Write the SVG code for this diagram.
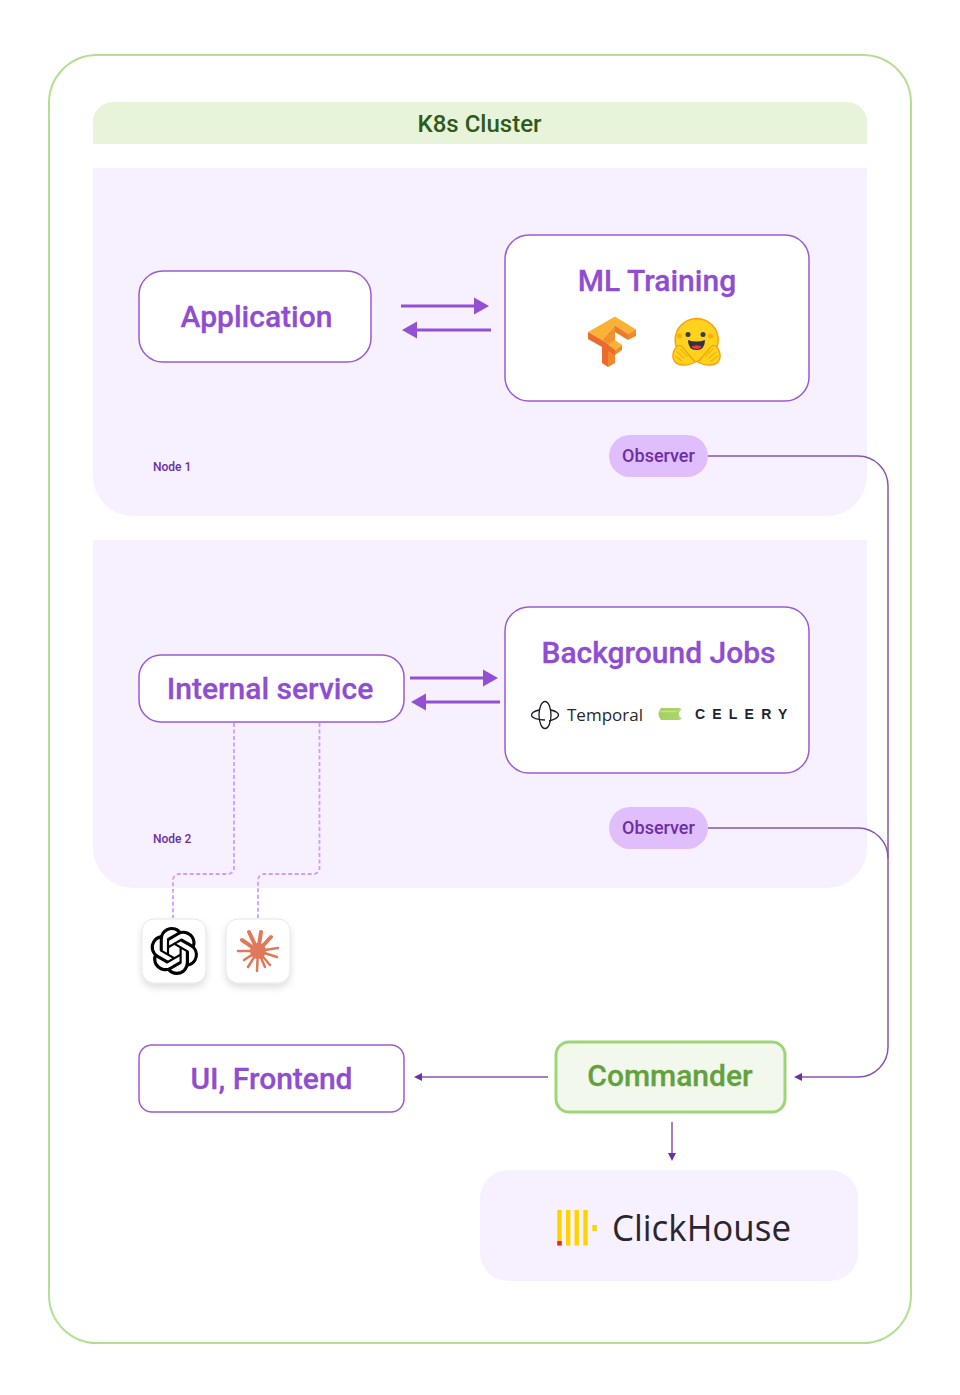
<svg xmlns="http://www.w3.org/2000/svg" width="960" height="1395" viewBox="0 0 960 1395">
<style>
text{font-family:Roboto,"Liberation Sans",sans-serif}
.t{font-size:30px;font-weight:500;fill:#8f4dd1;stroke:#8f4dd1;stroke-width:.3;text-anchor:middle}
.box{fill:#fff;stroke:#9b5bd3;stroke-width:1.5}
.zone{fill:#f7f0fe}
.obs{fill:#e0bdfb}
.obt{font-size:18px;font-weight:500;fill:#6b2fa5;text-anchor:middle}
.nl{font-size:12px;font-weight:500;fill:#6b2fa5}
.thin{fill:none;stroke:#8755b0;stroke-width:1.5}
.thick{fill:none;stroke:#9450d2;stroke-width:3}
.dash{fill:none;stroke:#cf9cfb;stroke-width:1.8;stroke-dasharray:4 2.5}
.ah{fill:#6d33a6}
.AH{fill:#9450d2}
.f{fill:none;stroke:#ff9d0b;stroke-width:1;stroke-linecap:round}
.sp{fill:none;stroke:#e0785a;stroke-linecap:round}
</style>
<defs>
<filter id="sh" x="-30%" y="-30%" width="160%" height="170%"><feDropShadow dx="0" dy="4" stdDeviation="3.5" flood-color="#000" flood-opacity=".13"/></filter>
<linearGradient id="cel" x1="0" x2="1" y1="0" y2="0"><stop offset="0" stop-color="#a5d162"/><stop offset=".75" stop-color="#a9d568"/><stop offset="1" stop-color="#d9e4c8"/></linearGradient>
</defs>
<rect width="960" height="1395" fill="#fff"/>
<g id="cluster">
<rect x="49" y="55" width="862" height="1288" rx="48" fill="#fff" stroke="#b4df91" stroke-width="2"/>
<path d="M93 144V122a20 20 0 0 1 20-20H847a20 20 0 0 1 20 20V144Z" fill="#e8f4da"/>
<text x="479.500" y="132" text-anchor="middle" font-size="24" font-weight="500" fill="#2f5a1c">K8s Cluster</text>
</g>
<g id="node1">
<path class="zone" d="M93 168H867V476a40 40 0 0 1-40 40H133a40 40 0 0 1-40-40Z"/>
<text class="nl" x="153" y="471">Node 1</text>
</g>
<g id="node2">
<path class="zone" d="M93 540H867V848a40 40 0 0 1-40 40H133a40 40 0 0 1-40-40Z"/>
<text class="nl" x="153" y="843">Node 2</text>
</g>
<g id="connectors">
<path class="thick" d="M401 306H476"/><path class="AH" d="M489 306L474 297.500V314.500Z"/>
<path class="thick" d="M491 330H416"/><path class="AH" d="M402 330L417 321.500V338.500Z"/>
<path class="thick" d="M410 678H485"/><path class="AH" d="M498 678L483 669.500V686.500Z"/>
<path class="thick" d="M500 702H425"/><path class="AH" d="M411 702L426 693.500V710.500Z"/>
<path class="dash" d="M234 723V868a6 6 0 0 1-6 6H179a6 6 0 0 0-6 6V918"/>
<path class="dash" d="M319.500 723V868a6 6 0 0 1-6 6H264a6 6 0 0 0-6 6V918"/>
<path class="thin" d="M708 456H858a30 30 0 0 1 30 30V1047a30 30 0 0 1-30 30H800"/>
<path class="thin" d="M708 828H858a30 30 0 0 1 30 30"/>
<path class="ah" d="M794 1077L802 1073V1081Z"/>
<path class="thin" d="M548 1077H420"/><path class="ah" d="M414 1077L422 1073V1081Z"/>
<path class="thin" d="M672 1122V1155"/><path class="ah" d="M672 1161L668 1153H676Z"/>
</g>
<g id="application"><rect class="box" x="139" y="271" width="232" height="91" rx="24"/><text class="t" x="256.500" y="327">Application</text></g>
<g id="ml-training">
<rect class="box" x="505" y="235" width="304" height="166" rx="24"/>
<text class="t" x="657" y="291">ML Training</text>
<g id="tensorflow">
<path fill="#f9b233" d="M588 332L615 316.500L636 329.500L628 334L615 325.500L602 340Z"/>
<path fill="#f1922a" d="M602 340L615 325.500V340L608 344Z"/>
<path fill="#ec6a2d" d="M588 332L602 340L608 344V367L602 363V347L588 339Z"/>
<path fill="#f1892a" d="M608 344L615 340V363L608 367Z"/>
<path fill="#ee7a2c" d="M615 325.500L628 334V340L615 332Z"/>
<path fill="#f08a2a" d="M628 334L636 329.500V336L628 340Z"/>
<path fill="#f9b233" d="M608 345L615 340L622 345L615 350Z"/>
<path fill="#ec6a2d" d="M608 345L615 350V355L608 351Z"/>
<path fill="#f08a2a" d="M615 350L622 345V350L615 355Z"/>
</g>
<g id="huggingface">
<circle cx="696.700" cy="340" r="21.500" fill="#ffd21e" stroke="#ff9d0b" stroke-width="1.500"/>
<circle cx="688" cy="334.500" r="2.500" fill="#3a3b45"/><circle cx="703" cy="334.500" r="2.500" fill="#3a3b45"/>
<circle cx="679.500" cy="336" r="2.500" fill="#ffad03"/><circle cx="710.500" cy="336" r="2.500" fill="#ffad03"/>
<path d="M688 340Q696 343 705 340Q705 350 696.500 350Q688 350 688 340Z" fill="#32343d"/>
<path d="M691 347Q696.500 343.500 702 347Q696.500 351 691 347Z" fill="#ff323d"/>
<path d="M673 358Q672 352 677 346Q681 344 683 348L695 362Q691 365 683 365Q675 365 673 358Z" fill="#ffd21e" stroke="#ff9d0b" stroke-width="1.300"/>
<path d="M720 358Q721 352 716 346Q712 344 710 348L698 362Q702 365 710 365Q718 365 720 358Z" fill="#ffd21e" stroke="#ff9d0b" stroke-width="1.300"/>
<path class="f" d="M677 352L684 358M680 349L687 356M675 356L682 361M716 352L709 358M713 349L706 356M718 356L711 361"/>
</g>
</g>
<g id="internal-service"><rect class="box" x="139" y="655" width="265" height="67" rx="22"/><text class="t" x="270" y="699">Internal service</text></g>
<g id="background-jobs">
<rect class="box" x="505" y="607" width="304" height="166" rx="24"/>
<text class="t" x="658.500" y="663">Background Jobs</text>
<g id="temporal" fill="none" stroke="#1e1e24" stroke-width="1.300">
<path d="M545 701.500C548.500 701.500 551 708 551 715C551 722 548.500 728.500 545 728.500C541.500 728.500 539 722 539 715C539 708 541.500 701.500 545 701.500Z"/>
<path d="M539 710C535 711 531.500 712.500 531.500 715C531.500 718 538 720 545 720M551 710C555 711 558.500 712.500 558.500 715C558.500 718 552 720.500 549 721"/>
<text x="567" y="721" font-size="17" fill="#27272a" stroke="none" style="font-family:'Open Sans','Liberation Sans',sans-serif">Temporal</text>
</g>
<g id="celery">
<path d="M661 708H680Q684 711 684 714Q684 717 680 720H661Q656 714 661 708Z" fill="url(#cel)"/>
<path d="M660 711.500H677" stroke="#c6e28f" stroke-width="1.500"/>
<path d="M684 709Q679 710 679 714Q679 718 684 719Z" fill="#fff"/>
<text x="695" y="719" font-size="14" font-weight="700" letter-spacing="7.200" fill="#1c2433" style="font-family:'Liberation Sans',sans-serif">CELERY</text>
</g>
</g>
<g id="observer-1"><rect class="obs" x="609" y="435" width="99" height="42" rx="21"/><text class="obt" x="658.500" y="462">Observer</text></g>
<g id="observer-2"><rect class="obs" x="609" y="807" width="99" height="42" rx="21"/><text class="obt" x="658.500" y="834">Observer</text></g>
<g id="openai">
<rect x="142" y="919" width="64" height="64" rx="12" fill="#fff" stroke="#e6e6e6" filter="url(#sh)"/>
<path transform="translate(150.300 927) scale(2)" fill="#000" d="M22.2819 9.8211a5.9847 5.9847 0 0 0-.5157-4.9108 6.0462 6.0462 0 0 0-6.5098-2.9A6.0651 6.0651 0 0 0 4.9807 4.1818a5.9847 5.9847 0 0 0-3.9977 2.9 6.0462 6.0462 0 0 0 .7427 7.0966 5.98 5.98 0 0 0 .511 4.9107 6.051 6.051 0 0 0 6.5146 2.9001A5.9847 5.9847 0 0 0 13.2599 24a6.0557 6.0557 0 0 0 5.7718-4.2058 5.9894 5.9894 0 0 0 3.9977-2.9001 6.0557 6.0557 0 0 0-.7475-7.0729zm-9.022 12.6081a4.4755 4.4755 0 0 1-2.8764-1.0408l.1419-.0804 4.7783-2.7582a.7948.7948 0 0 0 .3927-.6813v-6.7369l2.02 1.1686a.071.071 0 0 1 .038.052v5.5826a4.504 4.504 0 0 1-4.4945 4.4944zm-9.6607-4.1254a4.4708 4.4708 0 0 1-.5346-3.0137l.142.0852 4.783 2.7582a.7712.7712 0 0 0 .7806 0l5.8428-3.3685v2.3324a.0804.0804 0 0 1-.0332.0615L9.74 19.9502a4.4992 4.4992 0 0 1-6.1408-1.6464zM2.3408 7.8956a4.485 4.485 0 0 1 2.3655-1.9728V11.6a.7664.7664 0 0 0 .3879.6765l5.8144 3.3543-2.0201 1.1685a.0757.0757 0 0 1-.071 0l-4.8303-2.7865A4.504 4.504 0 0 1 2.3408 7.872zm16.5963 3.8558L13.1038 8.364 15.1192 7.2a.0757.0757 0 0 1 .071 0l4.8303 2.7913a4.4944 4.4944 0 0 1-.6765 8.1042v-5.6772a.79.79 0 0 0-.407-.667zm2.0107-3.0231l-.142-.0852-4.7735-2.7818a.7759.7759 0 0 0-.7854 0L9.409 9.2297V6.8974a.0662.0662 0 0 1 .0284-.0615l4.8303-2.7866a4.4992 4.4992 0 0 1 6.6802 4.66zM8.3065 12.863l-2.02-1.1638a.0804.0804 0 0 1-.038-.0567V6.0742a4.4992 4.4992 0 0 1 7.3757-3.4537l-.142.0805L8.704 5.459a.7948.7948 0 0 0-.3927.6813zm1.0976-2.3654l2.602-1.4998 2.6069 1.4998v2.9994l-2.5974 1.4997-2.6067-1.4997Z"/>
</g>
<g id="anthropic">
<rect x="226" y="919" width="64" height="64" rx="12" fill="#fff" stroke="#e6e6e6" filter="url(#sh)"/>
<path class="sp" stroke-width="4" d="M258 951L249 932M258 951L261 932M258 951L271 937M258 951L242 940"/>
<path class="sp" stroke-width="2.500" d="M258 951L278 948M258 951H238M258 951L277 957M258 951L270 965M258 951L265 967M258 951L257 971M258 951L248 967M258 951L244 960"/>
<circle cx="258" cy="951" r="8" fill="#e0785a"/>
</g>
<g id="ui-frontend"><rect class="box" x="139" y="1045" width="265" height="67" rx="13"/><text class="t" x="271.500" y="1089">UI, Frontend</text></g>
<g id="commander"><rect x="556" y="1042" width="229" height="70" rx="13" fill="#f2f8ec" stroke="#9dd676" stroke-width="3"/><text x="670" y="1086" text-anchor="middle" font-size="30" font-weight="500" fill="#62a23e" stroke="#62a23e" stroke-width=".3">Commander</text></g>
<g id="clickhouse">
<rect class="zone" x="480" y="1170" width="378" height="111" rx="28"/>
<rect x="557.300" y="1210" width="4.400" height="35.500" fill="#fdd300"/><rect x="557.300" y="1241" width="4.400" height="4.500" fill="#e8232a"/>
<rect x="566" y="1210" width="4.400" height="35.500" fill="#fdd300"/>
<rect x="574.500" y="1210" width="4.400" height="35.500" fill="#fdd300"/>
<rect x="583.300" y="1210" width="4.400" height="35.500" fill="#fdd300"/>
<rect x="592.300" y="1225" width="4.400" height="6" fill="#fdd300"/>
<text x="612" y="1241" font-size="37" textLength="179" lengthAdjust="spacingAndGlyphs" fill="#2a2630" style="font-family:'Open Sans','Liberation Sans',sans-serif">ClickHouse</text>
</g>
</svg>
